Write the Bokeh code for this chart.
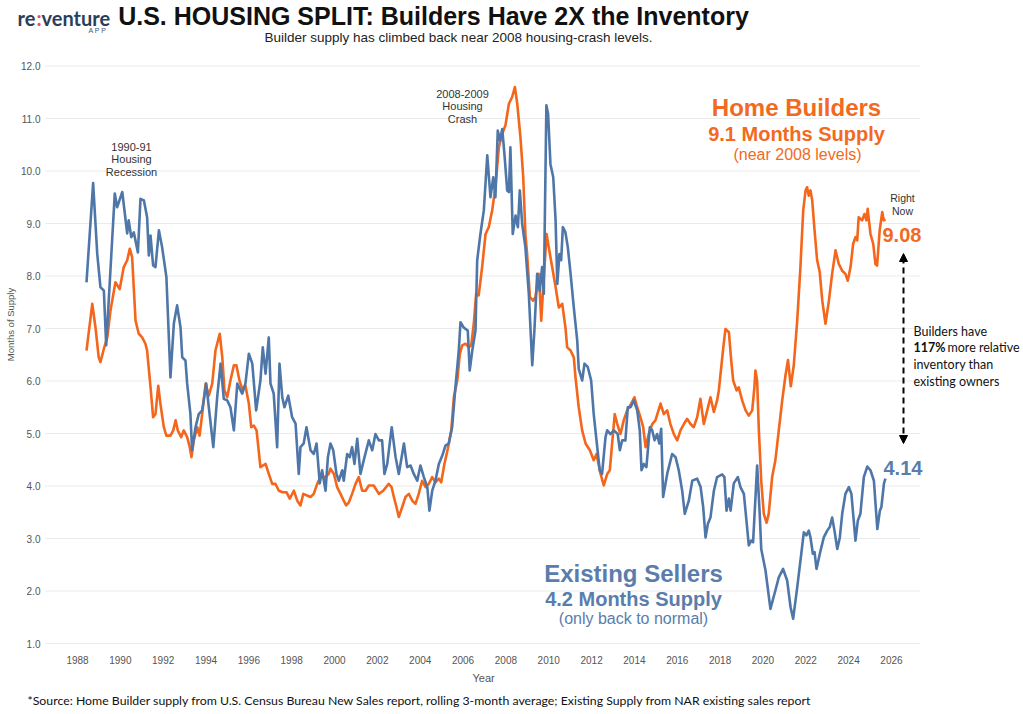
from bokeh.plotting import figure
from bokeh.models import (Range1d, FixedTicker, NumeralTickFormatter, Label, Arrow,
                          NormalHead, ColumnDataSource, Title)
from bokeh.embed import file_html
from bokeh.resources import INLINE

# ---------------- data ----------------
builder_years = [1988.42, 1988.69, 1988.84, 1988.99, 1989.07, 1989.23, 1989.39, 1989.54, 1989.77, 1989.97,
                 1990.16, 1990.32, 1990.44, 1990.55, 1990.71, 1990.86, 1991.02, 1991.17, 1991.25, 1991.41,
                 1991.53, 1991.64, 1991.77, 1991.87, 1992.03, 1992.15, 1992.34, 1992.47, 1992.58, 1992.68,
                 1992.84, 1992.96, 1993.12, 1993.24, 1993.32, 1993.43, 1993.59, 1993.70, 1993.82, 1993.98,
                 1994.13, 1994.29, 1994.44, 1994.64, 1994.76, 1994.86, 1994.99, 1995.14, 1995.30, 1995.42,
                 1995.56, 1995.69, 1995.84, 1996.00, 1996.11, 1996.23, 1996.36, 1996.54, 1996.78, 1996.93,
                 1997.09, 1997.24, 1997.40, 1997.58, 1997.76, 1997.91, 1998.10, 1998.26, 1998.41, 1998.54,
                 1998.72, 1998.88, 1999.03, 1999.19, 1999.34, 1999.58, 1999.73, 1999.81, 1999.97, 2000.12,
                 2000.28, 2000.43, 2000.54, 2000.67, 2000.82, 2000.98, 2001.13, 2001.29, 2001.45, 2001.60,
                 2001.83, 2002.07, 2002.27, 2002.53, 2002.66, 2002.77, 2002.89, 2003.00, 2003.16, 2003.31,
                 2003.47, 2003.63, 2003.78, 2003.93, 2004.09, 2004.25, 2004.40, 2004.56, 2004.71, 2004.87,
                 2004.98, 2005.13, 2005.29, 2005.45, 2005.57, 2005.73, 2005.85, 2005.96, 2006.11, 2006.27,
                 2006.38, 2006.50, 2006.61, 2006.73, 2006.89, 2007.05, 2007.20, 2007.36, 2007.51, 2007.67,
                 2007.83, 2007.98, 2008.14, 2008.29, 2008.42, 2008.53, 2008.68, 2008.81, 2008.91, 2008.99,
                 2009.12, 2009.27, 2009.38, 2009.54, 2009.65, 2009.77, 2009.90, 2010.00, 2010.16, 2010.32,
                 2010.47, 2010.63, 2010.78, 2010.86, 2011.02, 2011.17, 2011.25, 2011.40, 2011.56, 2011.72,
                 2011.92, 2012.10, 2012.23, 2012.42, 2012.57, 2012.73, 2012.85, 2012.96, 2013.08, 2013.20,
                 2013.35, 2013.50, 2013.66, 2013.85, 2014.00, 2014.13, 2014.28, 2014.41, 2014.52, 2014.67,
                 2014.83, 2014.98, 2015.22, 2015.37, 2015.53, 2015.68, 2015.84, 2016.00, 2016.15, 2016.31,
                 2016.46, 2016.62, 2016.77, 2016.93, 2017.08, 2017.24, 2017.40, 2017.55, 2017.71, 2017.86,
                 2017.94, 2018.15, 2018.25, 2018.41, 2018.52, 2018.61, 2018.77, 2018.87, 2019.03, 2019.19,
                 2019.34, 2019.50, 2019.60, 2019.65, 2019.73, 2019.81, 2019.92, 2020.04, 2020.17, 2020.27,
                 2020.43, 2020.58, 2020.74, 2020.90, 2021.05, 2021.17, 2021.30, 2021.44, 2021.60, 2021.75,
                 2021.88, 2021.99, 2022.06, 2022.14, 2022.22, 2022.30, 2022.41, 2022.53, 2022.65, 2022.77,
                 2022.92, 2023.08, 2023.23, 2023.39, 2023.54, 2023.70, 2023.85, 2023.96, 2024.09, 2024.21,
                 2024.32, 2024.40, 2024.47, 2024.63, 2024.74, 2024.83, 2024.89, 2025.02, 2025.15, 2025.25,
                 2025.33, 2025.45, 2025.57, 2025.64, 2025.72]
builder_supply = [6.58, 7.47, 7.02, 6.45, 6.36, 6.61, 6.83, 7.34, 7.88, 7.75,
                  8.17, 8.30, 8.52, 8.36, 7.15, 6.90, 6.83, 6.71, 6.58, 5.88,
                  5.31, 5.37, 5.91, 5.57, 5.12, 4.96, 4.96, 5.06, 5.25, 5.06,
                  4.93, 5.06, 4.93, 4.74, 4.55, 4.87, 5.12, 4.96, 5.37, 5.95,
                  5.72, 5.95, 6.58, 6.90, 6.45, 5.82, 5.69, 6.01, 6.30, 6.30,
                  6.01, 5.85, 5.91, 5.57, 5.12, 5.15, 5.06, 4.36, 4.42, 4.23,
                  4.04, 4.04, 3.91, 3.88, 3.88, 3.76, 3.91, 3.72, 3.63, 3.85,
                  3.82, 3.79, 3.85, 4.04, 4.17, 4.17, 4.23, 4.33, 4.23, 3.98,
                  3.85, 3.72, 3.63, 3.69, 3.85, 4.04, 4.17, 3.91, 3.91, 4.01,
                  4.01, 3.85, 3.91, 4.04, 3.98, 3.79, 3.60, 3.41, 3.60, 3.79,
                  3.85, 3.72, 3.66, 3.85, 4.10, 3.98, 4.04, 4.17, 4.07, 4.14,
                  4.07, 4.42, 4.71, 5.06, 5.69, 6.01, 6.52, 6.68, 6.71, 6.64,
                  6.68, 7.09, 7.66, 7.63, 8.17, 8.80, 8.93, 9.25, 9.69, 10.45,
                  10.71, 10.87, 11.28, 11.41, 11.60, 11.28, 10.64, 9.88, 8.80, 8.42,
                  7.60, 7.53, 7.60, 8.04, 7.15, 7.98, 8.80, 8.55, 8.17, 7.79,
                  7.40, 7.47, 7.02, 6.64, 6.58, 6.45, 6.07, 5.50, 5.06, 4.81,
                  4.68, 4.49, 4.61, 4.23, 4.01, 4.23, 4.30, 4.81, 5.37, 5.18,
                  4.99, 5.25, 5.44, 5.57, 5.69, 5.50, 5.31, 5.12, 4.74, 4.99,
                  5.18, 5.25, 5.57, 5.37, 5.44, 5.18, 4.99, 4.87, 5.06, 5.18,
                  5.28, 5.18, 5.12, 5.31, 5.66, 5.18, 5.44, 5.69, 5.41, 5.63,
                  5.82, 6.64, 6.99, 6.93, 6.39, 6.01, 5.82, 5.88, 5.63, 5.44,
                  5.34, 5.44, 5.88, 6.20, 6.00, 5.06, 4.10, 3.47, 3.30, 3.47,
                  4.17, 4.49, 5.06, 5.63, 6.10, 6.40, 5.90, 6.30, 7.15, 8.17,
                  9.25, 9.63, 9.69, 9.53, 9.63, 9.44, 8.87, 8.30, 8.08, 7.53,
                  7.09, 7.53, 8.04, 8.49, 8.23, 8.10, 8.04, 7.91, 8.17, 8.61,
                  8.74, 8.68, 9.12, 9.06, 9.18, 9.06, 9.28, 8.80, 8.61, 8.23,
                  8.20, 8.87, 9.22, 9.06, 9.08]

existing_years = [1988.42, 1988.73, 1988.92, 1989.07, 1989.23, 1989.34, 1989.74, 1989.85, 1990.09, 1990.32,
                  1990.39, 1990.51, 1990.63, 1990.82, 1990.94, 1991.10, 1991.25, 1991.33, 1991.41, 1991.53,
                  1991.64, 1991.80, 1991.95, 1992.15, 1992.34, 1992.50, 1992.65, 1992.81, 1992.89, 1993.04,
                  1993.12, 1993.27, 1993.35, 1993.51, 1993.66, 1993.82, 1994.01, 1994.13, 1994.34, 1994.52,
                  1994.68, 1994.83, 1994.99, 1995.14, 1995.30, 1995.46, 1995.69, 1995.84, 1996.00, 1996.16,
                  1996.34, 1996.54, 1996.65, 1996.78, 1996.93, 1997.01, 1997.16, 1997.32, 1997.43, 1997.56,
                  1997.66, 1997.84, 1998.02, 1998.18, 1998.33, 1998.41, 1998.56, 1998.69, 1998.88, 1999.03,
                  1999.16, 1999.31, 1999.42, 1999.58, 1999.69, 1999.81, 1999.94, 2000.09, 2000.20, 2000.36,
                  2000.43, 2000.59, 2000.71, 2000.82, 2000.93, 2001.06, 2001.21, 2001.40, 2001.60, 2001.76,
                  2001.91, 2002.07, 2002.22, 2002.33, 2002.46, 2002.67, 2002.85, 2003.00, 2003.24, 2003.39,
                  2003.55, 2003.70, 2003.86, 2004.01, 2004.17, 2004.33, 2004.43, 2004.56, 2004.71, 2004.87,
                  2005.03, 2005.18, 2005.33, 2005.49, 2005.65, 2005.80, 2005.88, 2006.03, 2006.22, 2006.31,
                  2006.43, 2006.58, 2006.66, 2006.81, 2006.97, 2007.13, 2007.28, 2007.41, 2007.51, 2007.62,
                  2007.72, 2007.83, 2007.93, 2008.06, 2008.14, 2008.21, 2008.32, 2008.45, 2008.56, 2008.65,
                  2008.76, 2008.91, 2009.07, 2009.23, 2009.33, 2009.46, 2009.58, 2009.69, 2009.77, 2009.89,
                  2009.97, 2010.08, 2010.21, 2010.32, 2010.40, 2010.50, 2010.58, 2010.66, 2010.78, 2010.89,
                  2011.02, 2011.17, 2011.33, 2011.40, 2011.56, 2011.67, 2011.82, 2011.98, 2012.10, 2012.23,
                  2012.38, 2012.49, 2012.65, 2012.73, 2012.88, 2013.04, 2013.22, 2013.32, 2013.43, 2013.58,
                  2013.69, 2013.82, 2013.97, 2014.13, 2014.25, 2014.33, 2014.44, 2014.56, 2014.72, 2014.83,
                  2014.94, 2015.06, 2015.16, 2015.25, 2015.34, 2015.53, 2015.76, 2015.92, 2016.07, 2016.23,
                  2016.35, 2016.54, 2016.70, 2016.93, 2017.09, 2017.21, 2017.32, 2017.43, 2017.55, 2017.71,
                  2017.86, 2018.10, 2018.20, 2018.30, 2018.41, 2018.49, 2018.64, 2018.83, 2018.95, 2019.11,
                  2019.23, 2019.34, 2019.45, 2019.54, 2019.73, 2019.85, 2019.92, 2020.12, 2020.35, 2020.58,
                  2020.74, 2020.94, 2021.13, 2021.29, 2021.41, 2021.60, 2021.79, 2021.91, 2022.03, 2022.14,
                  2022.22, 2022.33, 2022.41, 2022.50, 2022.69, 2022.84, 2023.00, 2023.12, 2023.23, 2023.34,
                  2023.47, 2023.59, 2023.70, 2023.85, 2024.01, 2024.13, 2024.32, 2024.43, 2024.55, 2024.71,
                  2024.87, 2025.02, 2025.18, 2025.34, 2025.46, 2025.53, 2025.65, 2025.72]
existing_supply = [7.88, 9.77, 8.43, 7.79, 7.72, 6.68, 9.57, 9.31, 9.60, 8.81,
                   9.06, 8.74, 8.83, 8.45, 9.47, 9.44, 9.12, 8.39, 8.77, 8.20,
                   8.17, 8.87, 8.55, 7.98, 6.07, 7.10, 7.44, 7.02, 6.45, 6.39,
                   5.95, 5.38, 4.68, 5.12, 5.37, 5.44, 5.95, 5.50, 4.74, 5.69,
                   6.33, 5.66, 5.63, 5.50, 5.06, 5.95, 5.76, 5.95, 6.52, 6.33,
                   5.44, 6.01, 6.64, 6.14, 6.83, 5.95, 5.76, 4.74, 6.33, 5.69,
                   5.50, 5.72, 5.31, 5.19, 4.23, 4.74, 4.81, 5.12, 4.68, 4.61,
                   4.81, 4.05, 4.30, 3.91, 4.55, 4.81, 4.68, 4.23, 4.10, 4.30,
                   4.10, 4.61, 4.55, 4.74, 4.42, 4.90, 4.23, 4.55, 4.87, 4.68,
                   4.99, 4.87, 4.87, 4.23, 4.42, 5.12, 4.55, 4.23, 4.81, 4.36,
                   4.39, 4.23, 4.10, 4.39, 4.17, 3.98, 3.53, 3.91, 4.10, 4.42,
                   4.58, 4.77, 4.81, 5.12, 5.91, 6.58, 7.12, 7.02, 6.96, 6.20,
                   6.58, 6.96, 8.30, 8.80, 9.25, 10.30, 9.50, 9.88, 9.50, 10.77,
                   10.58, 10.80, 10.33, 9.63, 9.60, 10.45, 8.80, 9.15, 8.93, 9.63,
                   8.99, 8.55, 7.66, 6.30, 6.96, 8.04, 7.72, 8.17, 7.66, 11.25,
                   11.09, 10.13, 9.88, 9.06, 7.85, 8.42, 8.30, 8.93, 8.83, 8.55,
                   8.04, 7.40, 6.77, 6.23, 6.01, 6.33, 6.27, 6.01, 5.37, 4.87,
                   4.30, 4.23, 4.93, 5.06, 4.99, 5.06, 4.99, 4.68, 4.87, 4.87,
                   5.50, 5.50, 5.63, 5.44, 5.06, 4.30, 4.42, 4.36, 5.12, 5.06,
                   4.87, 4.99, 4.81, 5.09, 3.79, 4.23, 4.61, 4.55, 4.30, 3.91,
                   3.47, 3.72, 4.10, 4.14, 3.98, 3.60, 3.02, 3.28, 3.40, 3.91,
                   4.17, 4.22, 4.17, 3.53, 3.76, 3.53, 4.05, 4.17, 3.98, 3.85,
                   3.34, 2.87, 2.96, 2.93, 4.39, 3.47, 2.80, 2.39, 1.66, 2.01,
                   2.26, 2.42, 2.20, 1.69, 1.47, 2.07, 2.71, 3.12, 3.06, 3.15,
                   3.02, 2.71, 2.74, 2.42, 2.77, 3.02, 3.15, 3.22, 3.40, 3.15,
                   2.80, 3.02, 3.47, 3.85, 3.98, 3.85, 2.96, 3.34, 3.47, 4.17,
                   4.37, 4.30, 4.10, 3.18, 3.53, 3.60, 4.05, 4.14]

x_ticks = list(range(1988, 2027, 2))
y_ticks = [1.0, 2.0, 3.0, 4.0, 5.0, 6.0, 7.0, 8.0, 9.0, 10.0, 11.0, 12.0]

# ---------------- layout helpers (canvas pixel -> data) ----------------
W, H = 1023, 714
F_LEFT, F_TOP, F_BOTTOM = 14, 0, 648      # frame covers header and right-hand callouts
GRID_LEFT, GRID_RIGHT = 45, 920           # visible plot area
PX_PER_YEAR = 21.42
PX_PER_UNIT = 52.5


def xd(cx):
    return 1988 + (cx - 77) / PX_PER_YEAR


def yd(cy):
    return 1 + (643 - cy) / PX_PER_UNIT


ORANGE = "#F4661B"
BLUE = "#4E76A8"
BLUE_TXT = "#5A7DAC"
ORANGE_TXT = "#F26A22"
ARIAL = "Liberation Sans"

p = figure(width=W, height=H, output_backend="svg", toolbar_location=None, title=None,
           x_range=Range1d(xd(F_LEFT), xd(W)), y_range=Range1d(yd(F_BOTTOM), yd(F_TOP)),
           min_border_left=F_LEFT, min_border_right=0,
           min_border_top=F_TOP, min_border_bottom=H - F_BOTTOM)
p.outline_line_color = None
p.background_fill_color = "white"
p.border_fill_color = "white"

# axes
p.xaxis.ticker = FixedTicker(ticks=x_ticks)
p.xaxis.formatter = NumeralTickFormatter(format="0")
p.yaxis.ticker = FixedTicker(ticks=y_ticks)
p.yaxis.formatter = NumeralTickFormatter(format="0.0")
for ax in (p.xaxis[0], p.yaxis[0]):
    ax.axis_line_color = None
    ax.major_tick_line_color = None
    ax.minor_tick_line_color = None
    ax.major_tick_out = 0
    ax.major_tick_in = 0
    ax.minor_tick_out = 0
    ax.major_label_text_font = ARIAL
    ax.major_label_text_font_size = "10px"
    ax.major_label_text_color = "#555555"
# y tick labels sit just left of the visible grid (x ~ 40)
p.yaxis.major_label_standoff = F_LEFT - 40
p.yaxis.axis_label = "Months of Supply"
p.yaxis.axis_label_text_font = ARIAL
p.yaxis.axis_label_text_font_size = "9.5px"
p.yaxis.axis_label_text_font_style = "normal"
p.yaxis.axis_label_text_color = "#555555"
p.yaxis.axis_label_standoff = 2
p.xaxis.major_label_standoff = 7

p.xgrid.visible = False
p.ygrid.visible = False

# horizontal gridlines limited to the visible plot area
p.segment(x0=xd(GRID_LEFT), x1=xd(GRID_RIGHT), y0=y_ticks, y1=y_ticks,
          line_color="#ebebeb", line_width=1)

# series
src_b = ColumnDataSource(dict(t=builder_years, v=builder_supply))
src_e = ColumnDataSource(dict(t=existing_years, v=existing_supply))
p.line("t", "v", source=src_b, line_color=ORANGE, line_width=2.6, line_join="round")
p.line("t", "v", source=src_e, line_color=BLUE, line_width=2.6, line_join="round")


def txt(cx, cy, s, size, color, bold=False, align="center", font=ARIAL, angle=0.0):
    p.add_layout(Label(x=xd(cx), y=yd(cy), text=s, text_font=font,
                       text_font_size=f"{size}px",
                       text_font_style="bold" if bold else "normal",
                       text_color=color, text_align=align, text_baseline="middle",
                       angle=angle))


# header
txt(17, 17, "re", 20, "#2C3E58", bold=True, align="left", font="Lato")
txt(36, 17, ":", 20, "#E8505B", bold=True, align="left", font="Lato")
txt(41, 17, "venture", 20, "#2C3E58", bold=True, align="left", font="Lato")
txt(97, 30, "A P P", 7, "#4A5568", align="center")
txt(433, 15, "U.S. HOUSING SPLIT: Builders Have 2X the Inventory", 25, "#111111", bold=True)
txt(458, 37, "Builder supply has climbed back near 2008 housing-crash levels.", 13.5, "#222222")

# event annotations
for i, s in enumerate(["1990-91", "Housing", "Recession"]):
    txt(131, 146 + 12.8 * i, s, 11, "#333333")
for i, s in enumerate(["2008-2009", "Housing", "Crash"]):
    txt(462, 93 + 12.6 * i, s, 11, "#333333")

# series callouts
txt(796, 107, "Home Builders", 24, ORANGE_TXT, bold=True)
txt(796, 133, "9.1 Months Supply", 20, ORANGE_TXT, bold=True)
txt(797, 154, "(near 2008 levels)", 16, ORANGE_TXT)

txt(633, 573, "Existing Sellers", 24, BLUE_TXT, bold=True)
txt(633, 598, "4.2 Months Supply", 20, BLUE_TXT, bold=True)
txt(633, 618, "(only back to normal)", 16, BLUE_TXT)

txt(902, 197, "Right", 10.5, "#333333")
txt(902, 210, "Now", 10.5, "#333333")
txt(882, 234, "9.08", 20, ORANGE_TXT, bold=True, align="left")
txt(883, 467, "4.14", 20, BLUE_TXT, bold=True, align="left")

# gap arrow
p.add_layout(Arrow(x_start=xd(903), y_start=yd(443), x_end=xd(903), y_end=yd(253),
                   line_color="black", line_width=2, line_dash="6 4",
                   start=NormalHead(size=8, fill_color="black", line_color="black"),
                   end=NormalHead(size=8, fill_color="black", line_color="black")))

txt(913, 331, "Builders have", 12.5, "#111111", align="left", font="Lato")
txt(913, 347, "117%", 12.5, "#111111", bold=True, align="left", font="Lato")
txt(947, 347, "more relative", 12.5, "#111111", align="left", font="Lato")
txt(913, 364, "inventory than", 12.5, "#111111", align="left", font="Lato")
txt(913, 381, "existing owners", 12.5, "#111111", align="left", font="Lato")

# below the axis: x-axis title and footnote
p.add_layout(Title(text="Year", align="left", offset=472 - F_LEFT, text_font=ARIAL,
                   text_font_size="11px", text_font_style="normal", text_color="#555555",
                   standoff=6), "below")
p.add_layout(Title(text="*Source: Home Builder supply from U.S. Census Bureau New Sales report, rolling "
                        "3-month average; Existing Supply from NAR existing sales report",
                   align="left", offset=27 - F_LEFT, text_font="Lato", text_font_size="12.3px",
                   text_font_style="normal", text_color="#111111", standoff=9), "below")

open("out.html", "w").write(file_html(p, INLINE))
